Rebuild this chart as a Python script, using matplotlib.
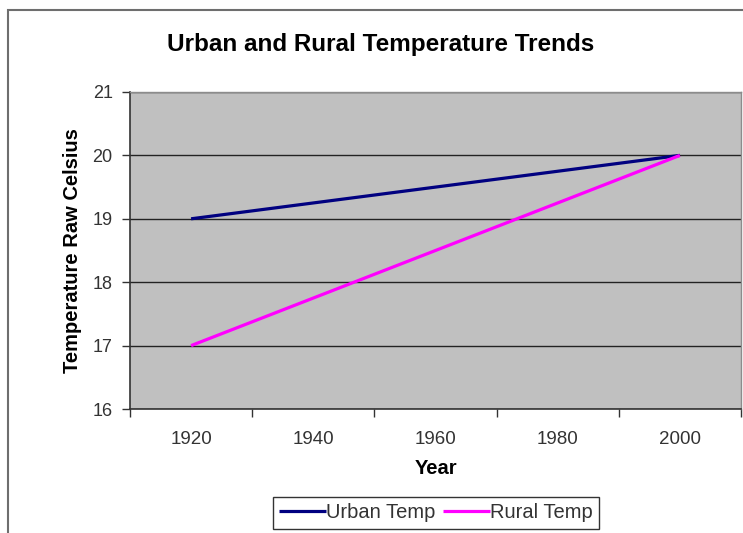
import matplotlib
matplotlib.use("Agg")
import matplotlib.pyplot as plt
from matplotlib.patches import Rectangle

plt.rcParams['font.family'] = ['Liberation Sans', 'DejaVu Sans']

# ── Data ──────────────────────────────────────────────────────────────────────
years       = [1920, 2000]
urban_temp  = [19, 20]
rural_temp  = [17, 20]
year_labels = [1920, 1940, 1960, 1980, 2000]
y_ticks     = [16, 17, 18, 19, 20, 21]

W, H = 743, 533
fig = plt.figure(figsize=(W / 100, H / 100), dpi=100)
fig.patch.set_facecolor('white')

# chart area border (cut off at right and bottom)
fig.patches.append(Rectangle((8 / W, -0.1), 1.2, 1 - 10 / H + 0.1,
                             transform=fig.transFigure, fill=False,
                             edgecolor='#6E6E6E', linewidth=1.5))

ax = fig.add_axes([130 / W, 1 - 409 / H, (741 - 130) / W, (409 - 92) / H])
ax.set_facecolor('#C0C0C0')

# ── Lines ─────────────────────────────────────────────────────────────────────
ax.plot(years, urban_temp, color='#000080', lw=2.3, label='Urban Temp',
        solid_capstyle='butt', zorder=3)
ax.plot(years, rural_temp, color='#FF00FF', lw=2.3, label='Rural Temp',
        solid_capstyle='butt', zorder=3)

# ── Axes ──────────────────────────────────────────────────────────────────────
ax.set_xlim(1910, 2010)
ax.set_ylim(16, 21)
ax.set_yticks(y_ticks)
ax.set_yticklabels([str(v) for v in y_ticks])

# category separators as major ticks, labels as minor ticks
ax.set_xticks([y - 10 for y in year_labels] + [year_labels[-1] + 10])
ax.set_xticklabels([])
ax.set_xticks(year_labels, minor=True)
ax.set_xticklabels([str(y) for y in year_labels], minor=True)
ax.tick_params(axis='x', which='minor', length=0, pad=16,
               labelsize=13.5, labelcolor='#333333')
ax.tick_params(axis='x', which='major', length=6, width=1, color='#333333')
ax.tick_params(axis='y', length=5.5, width=1, color='#333333',
               labelsize=13, labelcolor='#333333', pad=7)

ax.grid(axis='y', color='#222222', linewidth=1.0, zorder=1)
ax.set_axisbelow(True)

for s in ['top', 'right']:
    ax.spines[s].set_color('#8C8C8C')
    ax.spines[s].set_linewidth(1.0)
for s in ['left', 'bottom']:
    ax.spines[s].set_color('#333333')
    ax.spines[s].set_linewidth(1.2)

# ── Texts ─────────────────────────────────────────────────────────────────────
fig.text(381 / W, 1 - 44 / H, 'Urban and Rural Temperature Trends',
         ha='center', va='center', fontsize=17.5, fontweight='bold')
fig.text(72 / W, 1 - 251 / H, 'Temperature Raw Celsius', rotation=90,
         ha='center', va='center', fontsize=14.5, fontweight='bold')
fig.text(436 / W, 1 - 469 / H, 'Year',
         ha='center', va='center', fontsize=14.5, fontweight='bold')

leg = fig.legend(loc='center', bbox_to_anchor=(436 / W, 1 - 513 / H),
                 ncol=2, fontsize=14.5, frameon=True, fancybox=False,
                 handlelength=2.35, handletextpad=0.0, columnspacing=0.35,
                 borderpad=0.3, borderaxespad=0, labelcolor='#333333')
leg.get_frame().set_edgecolor('black')
leg.get_frame().set_linewidth(1.0)

fig.savefig('out.png', dpi=100)
